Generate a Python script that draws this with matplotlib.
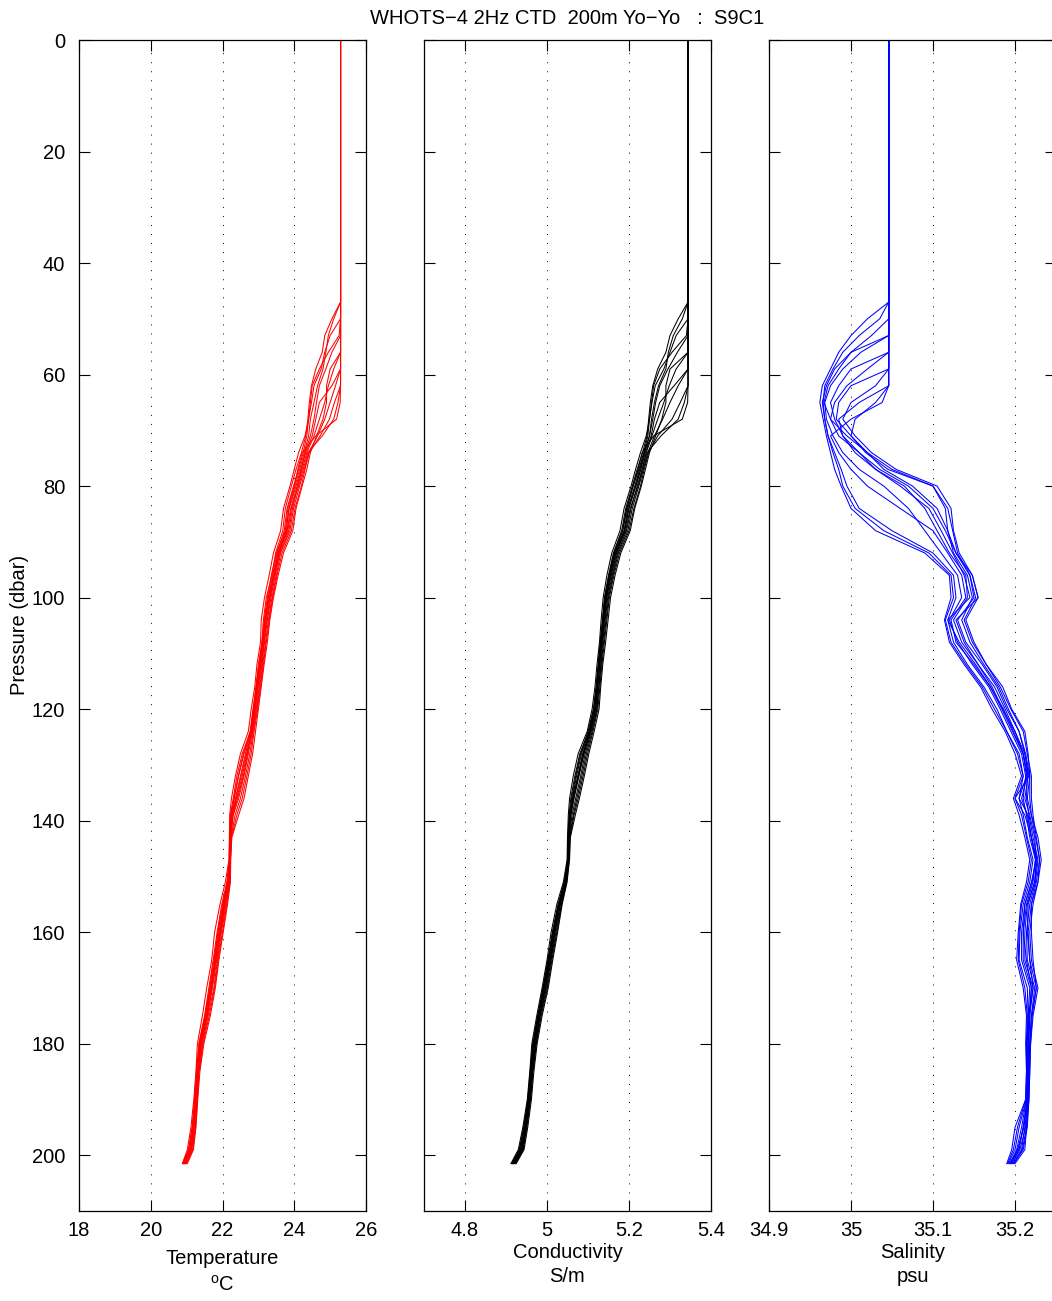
import matplotlib
matplotlib.use("Agg")
import matplotlib.pyplot as plt
from matplotlib.ticker import FixedLocator, FuncFormatter

plt.rcParams['font.family'] = ['Liberation Sans', 'DejaVu Sans']

# Pressure levels (dbar) shared by every yo-yo cast
pressure = [0, 47, 50, 53, 56, 59, 62, 65, 68, 71, 74, 77, 80, 84, 88, 92, 96,
            100, 104, 108, 112, 116, 120, 124, 128, 132, 136, 139, 143, 147,
            151, 155, 160, 165, 170, 175, 180, 185, 190, 195, 199, 201.5]

# Temperature (deg C), one list per cast
temperature_casts = [
    [25.29, 25.29, 25.05, 24.85, 24.78, 24.60, 24.48, 24.42, 24.38, 24.32, 24.20, 24.05, 23.92,
     23.75, 23.68, 23.48, 23.38, 23.22, 23.14, 23.10, 23.00, 22.93, 22.86, 22.78, 22.55, 22.40, 22.30,
     22.22, 22.20, 22.19, 22.12, 21.98, 21.85, 21.74, 21.62, 21.50, 21.34, 21.28, 21.23, 21.15, 21.05, 20.90],
    [25.29, 25.29, 25.29, 25.00, 24.85, 24.75, 24.55, 24.48, 24.40, 24.35, 24.25, 24.12, 23.98,
     23.80, 23.72, 23.52, 23.40, 23.27, 23.18, 23.12, 23.04, 22.95, 22.88, 22.80, 22.60, 22.45, 22.33,
     22.24, 22.21, 22.20, 22.16, 22.03, 21.92, 21.80, 21.68, 21.55, 21.38, 21.30, 21.25, 21.18, 21.10, 20.93],
    [25.29, 25.29, 25.29, 25.29, 25.05, 24.88, 24.70, 24.62, 24.55, 24.45, 24.30, 24.20, 24.08,
     23.90, 23.80, 23.58, 23.45, 23.32, 23.22, 23.15, 23.08, 22.99, 22.92, 22.82, 22.68, 22.55, 22.40,
     22.27, 22.22, 22.21, 22.18, 22.06, 21.93, 21.81, 21.70, 21.56, 21.40, 21.31, 21.26, 21.20, 21.12, 20.95],
    [25.29, 25.29, 25.29, 25.29, 25.29, 25.10, 24.95, 24.85, 24.70, 24.55, 24.35, 24.22, 24.10,
     23.95, 23.85, 23.60, 23.47, 23.35, 23.25, 23.17, 23.10, 23.02, 22.94, 22.84, 22.72, 22.60, 22.45,
     22.30, 22.23, 22.21, 22.19, 22.08, 21.95, 21.84, 21.72, 21.58, 21.42, 21.32, 21.27, 21.22, 21.14, 20.97],
    [25.29, 25.29, 25.29, 25.29, 25.29, 25.29, 25.15, 25.00, 24.85, 24.65, 24.40, 24.28, 24.15,
     23.98, 23.88, 23.62, 23.50, 23.38, 23.28, 23.20, 23.12, 23.04, 22.96, 22.86, 22.76, 22.64, 22.50,
     22.35, 22.24, 22.22, 22.20, 22.10, 21.97, 21.86, 21.76, 21.60, 21.44, 21.34, 21.29, 21.24, 21.15, 20.98],
    [25.29, 25.29, 25.29, 25.29, 25.29, 25.29, 25.29, 25.12, 24.98, 24.72, 24.42, 24.30, 24.20,
     24.02, 23.92, 23.66, 23.52, 23.40, 23.30, 23.22, 23.14, 23.06, 22.98, 22.88, 22.80, 22.68, 22.55,
     22.40, 22.25, 22.22, 22.21, 22.12, 22.00, 21.88, 21.78, 21.63, 21.46, 21.35, 21.30, 21.25, 21.17, 21.00],
    [25.29, 25.29, 25.29, 25.29, 25.29, 25.29, 25.29, 25.22, 25.10, 24.78, 24.38, 24.25, 24.12,
     23.92, 23.82, 23.56, 23.44, 23.30, 23.20, 23.13, 23.06, 22.97, 22.90, 22.80, 22.70, 22.58, 22.42,
     22.29, 22.22, 22.20, 22.17, 22.04, 21.90, 21.79, 21.66, 21.53, 21.36, 21.29, 21.24, 21.19, 21.09, 20.91],
    [25.29, 25.29, 25.29, 25.29, 25.29, 25.29, 25.29, 25.28, 25.18, 24.60, 24.22, 24.10, 24.00,
     23.82, 23.75, 23.50, 23.36, 23.25, 23.16, 23.10, 23.02, 22.94, 22.85, 22.77, 22.58, 22.44, 22.32,
     22.23, 22.20, 22.19, 22.14, 22.00, 21.87, 21.76, 21.64, 21.51, 21.35, 21.27, 21.22, 21.16, 21.06, 20.89],
    [25.29, 25.29, 25.29, 25.25, 24.95, 24.70, 24.50, 24.45, 24.40, 24.30, 24.12, 24.00, 23.88,
     23.70, 23.62, 23.42, 23.30, 23.17, 23.08, 23.06, 22.96, 22.90, 22.80, 22.72, 22.50, 22.36, 22.25,
     22.20, 22.19, 22.18, 22.08, 21.93, 21.78, 21.70, 21.56, 21.44, 21.30, 21.26, 21.20, 21.12, 21.02, 20.88],
    [25.29, 25.29, 25.29, 25.29, 25.29, 25.00, 24.90, 24.90, 24.80, 24.62, 24.45, 24.35, 24.22,
     24.05, 23.96, 23.70, 23.55, 23.42, 23.32, 23.25, 23.16, 23.08, 23.00, 22.92, 22.84, 22.72, 22.60,
     22.45, 22.26, 22.23, 22.22, 22.14, 22.02, 21.90, 21.80, 21.66, 21.48, 21.37, 21.31, 21.26, 21.19, 21.02],
    [25.29, 25.29, 25.29, 25.29, 25.29, 25.29, 25.05, 24.70, 24.60, 24.50, 24.32, 24.18, 24.05,
     23.86, 23.77, 23.54, 23.42, 23.28, 23.19, 23.12, 23.04, 22.96, 22.88, 22.79, 22.64, 22.50, 22.36,
     22.26, 22.21, 22.20, 22.15, 22.02, 21.88, 21.78, 21.66, 21.52, 21.38, 21.30, 21.25, 21.18, 21.08, 20.92],
    [25.29, 25.29, 25.10, 24.95, 24.88, 24.80, 24.65, 24.55, 24.45, 24.40, 24.28, 24.15, 24.02,
     23.85, 23.78, 23.56, 23.44, 23.33, 23.24, 23.16, 23.07, 22.99, 22.91, 22.83, 22.66, 22.52, 22.38,
     22.26, 22.22, 22.21, 22.17, 22.05, 21.94, 21.82, 21.70, 21.57, 21.40, 21.32, 21.27, 21.21, 21.12, 20.94],
]

# Conductivity (S/m), one list per cast
conductivity_casts = [
    [5.344, 5.344, 5.320, 5.300, 5.290, 5.270, 5.258, 5.252, 5.248, 5.244, 5.233, 5.220, 5.208,
     5.192, 5.182, 5.162, 5.150, 5.140, 5.135, 5.130, 5.125, 5.120, 5.114, 5.102, 5.080, 5.068, 5.058,
     5.054, 5.051, 5.051, 5.042, 5.027, 5.013, 5.003, 4.991, 4.978, 4.966, 4.960, 4.954, 4.943, 4.933, 4.915],
    [5.344, 5.344, 5.344, 5.315, 5.300, 5.285, 5.264, 5.256, 5.250, 5.246, 5.236, 5.224, 5.210,
     5.195, 5.185, 5.165, 5.152, 5.142, 5.137, 5.131, 5.126, 5.121, 5.116, 5.103, 5.084, 5.072, 5.062,
     5.056, 5.052, 5.052, 5.043, 5.029, 5.016, 5.005, 4.993, 4.979, 4.968, 4.961, 4.955, 4.945, 4.936, 4.917],
    [5.344, 5.344, 5.344, 5.344, 5.318, 5.295, 5.275, 5.265, 5.258, 5.250, 5.238, 5.228, 5.216,
     5.200, 5.190, 5.170, 5.157, 5.146, 5.140, 5.134, 5.129, 5.124, 5.119, 5.106, 5.090, 5.078, 5.066,
     5.058, 5.053, 5.052, 5.045, 5.031, 5.018, 5.007, 4.995, 4.981, 4.970, 4.963, 4.957, 4.947, 4.938, 4.919],
    [5.344, 5.344, 5.344, 5.344, 5.344, 5.315, 5.298, 5.285, 5.270, 5.256, 5.242, 5.232, 5.220,
     5.205, 5.194, 5.172, 5.159, 5.148, 5.142, 5.136, 5.131, 5.126, 5.121, 5.108, 5.093, 5.082, 5.070,
     5.061, 5.054, 5.053, 5.046, 5.033, 5.020, 5.009, 4.997, 4.983, 4.972, 4.964, 4.958, 4.949, 4.940, 4.920],
    [5.344, 5.344, 5.344, 5.344, 5.344, 5.344, 5.320, 5.300, 5.282, 5.262, 5.246, 5.235, 5.224,
     5.208, 5.197, 5.174, 5.161, 5.150, 5.144, 5.138, 5.132, 5.127, 5.122, 5.110, 5.096, 5.085, 5.073,
     5.064, 5.055, 5.053, 5.047, 5.035, 5.022, 5.010, 4.999, 4.984, 4.973, 4.965, 4.959, 4.950, 4.941, 4.922],
    [5.344, 5.344, 5.344, 5.344, 5.344, 5.344, 5.344, 5.325, 5.305, 5.270, 5.248, 5.237, 5.228,
     5.212, 5.200, 5.177, 5.163, 5.152, 5.146, 5.140, 5.134, 5.129, 5.124, 5.112, 5.099, 5.088, 5.076,
     5.066, 5.056, 5.054, 5.048, 5.036, 5.024, 5.012, 5.001, 4.986, 4.974, 4.966, 4.960, 4.951, 4.942, 4.923],
    [5.344, 5.344, 5.344, 5.344, 5.344, 5.344, 5.344, 5.335, 5.320, 5.278, 5.244, 5.233, 5.222,
     5.203, 5.192, 5.168, 5.155, 5.144, 5.138, 5.132, 5.127, 5.122, 5.117, 5.104, 5.087, 5.075, 5.064,
     5.057, 5.052, 5.051, 5.044, 5.030, 5.015, 5.004, 4.992, 4.979, 4.967, 4.961, 4.955, 4.946, 4.935, 4.916],
    [5.344, 5.344, 5.344, 5.344, 5.344, 5.344, 5.344, 5.343, 5.330, 5.260, 5.232, 5.222, 5.210,
     5.194, 5.184, 5.163, 5.151, 5.141, 5.136, 5.130, 5.125, 5.120, 5.113, 5.100, 5.082, 5.070, 5.060,
     5.055, 5.051, 5.050, 5.043, 5.028, 5.014, 5.002, 4.990, 4.977, 4.965, 4.959, 4.953, 4.944, 4.932, 4.914],
    [5.344, 5.344, 5.344, 5.340, 5.305, 5.275, 5.260, 5.255, 5.250, 5.242, 5.228, 5.216, 5.205,
     5.188, 5.178, 5.158, 5.146, 5.137, 5.132, 5.128, 5.122, 5.117, 5.110, 5.098, 5.076, 5.064, 5.055,
     5.052, 5.050, 5.049, 5.040, 5.024, 5.010, 5.000, 4.988, 4.975, 4.963, 4.958, 4.952, 4.941, 4.930, 4.912],
    [5.344, 5.344, 5.344, 5.344, 5.344, 5.300, 5.290, 5.290, 5.280, 5.265, 5.250, 5.240, 5.230,
     5.214, 5.203, 5.180, 5.166, 5.155, 5.149, 5.143, 5.136, 5.131, 5.127, 5.115, 5.102, 5.091, 5.079,
     5.069, 5.057, 5.055, 5.049, 5.037, 5.026, 5.014, 5.003, 4.988, 4.976, 4.968, 4.962, 4.953, 4.944, 4.925],
    [5.344, 5.344, 5.344, 5.344, 5.344, 5.344, 5.310, 5.275, 5.262, 5.254, 5.240, 5.229, 5.217,
     5.199, 5.189, 5.167, 5.155, 5.143, 5.138, 5.133, 5.128, 5.123, 5.118, 5.105, 5.088, 5.076, 5.063,
     5.057, 5.052, 5.051, 5.044, 5.031, 5.016, 5.005, 4.993, 4.980, 4.968, 4.961, 4.956, 4.946, 4.936, 4.917],
    [5.344, 5.344, 5.330, 5.308, 5.296, 5.290, 5.272, 5.262, 5.255, 5.250, 5.237, 5.226, 5.214,
     5.197, 5.188, 5.166, 5.154, 5.145, 5.140, 5.134, 5.128, 5.123, 5.118, 5.106, 5.090, 5.077, 5.065,
     5.058, 5.053, 5.052, 5.045, 5.032, 5.019, 5.008, 4.996, 4.982, 4.970, 4.963, 4.957, 4.948, 4.938, 4.919],
]

# Salinity (psu), one list per cast
salinity_casts = [
    [35.046, 35.046, 35.020, 35.000, 34.985, 34.975, 34.965, 34.962, 34.966, 34.970, 34.975, 34.980, 34.988,
     35.000, 35.030, 35.090, 35.120, 35.122, 35.114, 35.120, 35.138, 35.158, 35.172, 35.188, 35.200, 35.208, 35.198,
     35.205, 35.212, 35.218, 35.214, 35.207, 35.204, 35.202, 35.210, 35.214, 35.213, 35.214, 35.213, 35.200, 35.196, 35.190],
    [35.046, 35.046, 35.046, 35.025, 35.000, 34.980, 34.970, 34.965, 34.968, 34.972, 34.980, 34.988, 34.995,
     35.010, 35.050, 35.100, 35.125, 35.128, 35.118, 35.125, 35.142, 35.162, 35.178, 35.190, 35.205, 35.210, 35.205,
     35.210, 35.215, 35.222, 35.218, 35.210, 35.206, 35.205, 35.215, 35.216, 35.215, 35.215, 35.214, 35.205, 35.200, 35.192],
    [35.046, 35.046, 35.046, 35.046, 35.012, 34.990, 34.975, 34.968, 34.970, 34.978, 34.990, 35.010, 35.040,
     35.070, 35.090, 35.110, 35.130, 35.135, 35.120, 35.130, 35.148, 35.168, 35.182, 35.195, 35.208, 35.213, 35.210,
     35.214, 35.218, 35.225, 35.222, 35.214, 35.210, 35.210, 35.220, 35.218, 35.216, 35.216, 35.215, 35.210, 35.205, 35.195],
    [35.046, 35.046, 35.046, 35.046, 35.046, 35.000, 34.985, 34.975, 34.980, 34.990, 35.005, 35.030, 35.065,
     35.090, 35.105, 35.120, 35.140, 35.142, 35.125, 35.135, 35.155, 35.172, 35.185, 35.200, 35.210, 35.215, 35.214,
     35.217, 35.222, 35.228, 35.225, 35.218, 35.214, 35.215, 35.224, 35.220, 35.218, 35.217, 35.216, 35.212, 35.208, 35.197],
    [35.046, 35.046, 35.046, 35.046, 35.046, 35.046, 35.000, 34.985, 34.982, 35.000, 35.018, 35.045, 35.100,
     35.115, 35.118, 35.128, 35.145, 35.150, 35.130, 35.140, 35.160, 35.178, 35.190, 35.205, 35.213, 35.218, 35.218,
     35.220, 35.225, 35.230, 35.228, 35.222, 35.218, 35.220, 35.228, 35.222, 35.219, 35.218, 35.217, 35.215, 35.210, 35.198],
    [35.046, 35.046, 35.046, 35.046, 35.046, 35.046, 35.030, 35.000, 34.990, 35.005, 35.025, 35.055, 35.105,
     35.122, 35.125, 35.132, 35.148, 35.155, 35.140, 35.150, 35.165, 35.182, 35.195, 35.210, 35.215, 35.220, 35.220,
     35.222, 35.226, 35.230, 35.226, 35.220, 35.220, 35.222, 35.226, 35.220, 35.218, 35.217, 35.216, 35.214, 35.212, 35.200],
    [35.046, 35.046, 35.046, 35.046, 35.046, 35.046, 35.046, 35.030, 35.005, 35.000, 35.020, 35.040, 35.075,
     35.105, 35.118, 35.125, 35.142, 35.148, 35.135, 35.145, 35.162, 35.180, 35.192, 35.205, 35.212, 35.216, 35.212,
     35.218, 35.224, 35.226, 35.224, 35.216, 35.215, 35.218, 35.222, 35.218, 35.217, 35.216, 35.215, 35.213, 35.206, 35.196],
    [35.046, 35.046, 35.046, 35.046, 35.046, 35.046, 35.046, 35.038, 35.000, 34.975, 34.985, 35.000, 35.020,
     35.060, 35.100, 35.118, 35.135, 35.140, 35.122, 35.128, 35.150, 35.170, 35.186, 35.198, 35.210, 35.215, 35.208,
     35.215, 35.220, 35.226, 35.220, 35.212, 35.208, 35.208, 35.218, 35.216, 35.214, 35.215, 35.214, 35.208, 35.202, 35.194],
    [35.046, 35.046, 35.046, 35.046, 35.000, 34.985, 34.972, 34.967, 34.975, 34.995, 35.020, 35.050, 35.100,
     35.118, 35.124, 35.130, 35.145, 35.152, 35.138, 35.148, 35.165, 35.185, 35.196, 35.212, 35.216, 35.218, 35.215,
     35.220, 35.228, 35.232, 35.228, 35.220, 35.216, 35.218, 35.226, 35.221, 35.219, 35.218, 35.217, 35.214, 35.209, 35.199],
    [35.046, 35.046, 35.046, 35.046, 35.046, 35.020, 34.995, 34.980, 34.975, 34.985, 35.010, 35.035, 35.070,
     35.100, 35.115, 35.128, 35.148, 35.155, 35.128, 35.138, 35.155, 35.175, 35.188, 35.200, 35.212, 35.217, 35.200,
     35.212, 35.220, 35.227, 35.224, 35.215, 35.212, 35.212, 35.222, 35.217, 35.216, 35.216, 35.215, 35.210, 35.204, 35.193],
    [35.046, 35.046, 35.046, 35.046, 35.046, 35.046, 35.046, 35.010, 34.985, 34.990, 35.010, 35.030, 35.060,
     35.095, 35.110, 35.124, 35.138, 35.145, 35.118, 35.132, 35.152, 35.170, 35.184, 35.197, 35.210, 35.214, 35.205,
     35.216, 35.220, 35.225, 35.221, 35.212, 35.210, 35.214, 35.220, 35.217, 35.216, 35.216, 35.215, 35.211, 35.203, 35.195],
    [35.046, 35.046, 35.035, 35.010, 34.990, 34.978, 34.968, 34.966, 34.968, 34.972, 34.978, 34.985, 34.990,
     35.005, 35.040, 35.095, 35.122, 35.125, 35.115, 35.122, 35.140, 35.160, 35.175, 35.190, 35.203, 35.210, 35.200,
     35.208, 35.214, 35.220, 35.216, 35.208, 35.205, 35.204, 35.212, 35.215, 35.214, 35.214, 35.213, 35.203, 35.198, 35.191],
]

temp_ticks = [18, 20, 22, 24, 26]
cond_ticks = [4.8, 5.0, 5.2, 5.4]
sal_ticks = [34.9, 35.0, 35.1, 35.2]
pressure_ticks = [0, 20, 40, 60, 80, 100, 120, 140, 160, 180, 200]

panels = [
    (temperature_casts, 'red', (18, 26), temp_ticks, 'Temperature', r'$\mathregular{^o}$C'),
    (conductivity_casts, 'black', (4.7, 5.4), cond_ticks, 'Conductivity', 'S/m'),
    (salinity_casts, 'blue', (34.9, 35.25), sal_ticks, 'Salinity', 'psu'),
]

W, H = 1052, 1301
fig = plt.figure(figsize=(W / 100, H / 100), dpi=100)
lefts = [79, 424, 769]
ax_w = 287
top, bottom = 40, 1211
fs = 14.5

fmt = FuncFormatter(lambda v, pos: '%g' % round(v, 3))

for i, (casts, color, xlim, xticks, lab1, lab2) in enumerate(panels):
    ax = fig.add_axes([lefts[i] / W, 1 - bottom / H, ax_w / W, (bottom - top) / H])
    for cast in casts:
        ax.plot(cast, pressure, color=color, lw=0.75, solid_joinstyle='round')
    ax.set_xlim(*xlim)
    ax.set_ylim(210, 0)
    ax.xaxis.set_major_locator(FixedLocator(xticks))
    ax.xaxis.set_major_formatter(fmt)
    ax.yaxis.set_major_locator(FixedLocator(pressure_ticks))
    ax.set_axisbelow(True)
    ax.grid(axis='x', color='black', lw=0.7, linestyle=(0, (1, 8.3)))
    ax.tick_params(direction='in', length=8, width=0.8, top=True, right=True,
                   labelsize=fs, colors='black')
    ax.tick_params(axis='x', pad=7)
    ax.tick_params(axis='y', pad=10)
    if i > 0:
        ax.tick_params(axis='y', labelleft=False)
    for s in ax.spines.values():
        s.set_linewidth(0.9)
    cx = (lefts[i] + ax_w / 2) / W
    if i == 0:
        fig.text(cx, 1 - 1259 / H, lab1, ha='center', va='center', fontsize=fs)
        fig.text(cx, 1 - 1285 / H, lab2, ha='center', va='center', fontsize=fs)
    else:
        fig.text(cx, 1 - 1253 / H, lab1, ha='center', va='center', fontsize=fs)
        fig.text(cx, 1 - 1276 / H, lab2, ha='center', va='center', fontsize=fs)

fig.text(20 / W, 1 - 625 / H, 'Pressure (dbar)', rotation=90, ha='center',
         va='center', fontsize=fs)
fig.text(567.5 / W, 1 - 18 / H, 'WHOTS\u22124 2Hz CTD  200m Yo\u2212Yo   :  S9C1',
         ha='center', va='center', fontsize=fs)

fig.savefig('out.png', dpi=100)
